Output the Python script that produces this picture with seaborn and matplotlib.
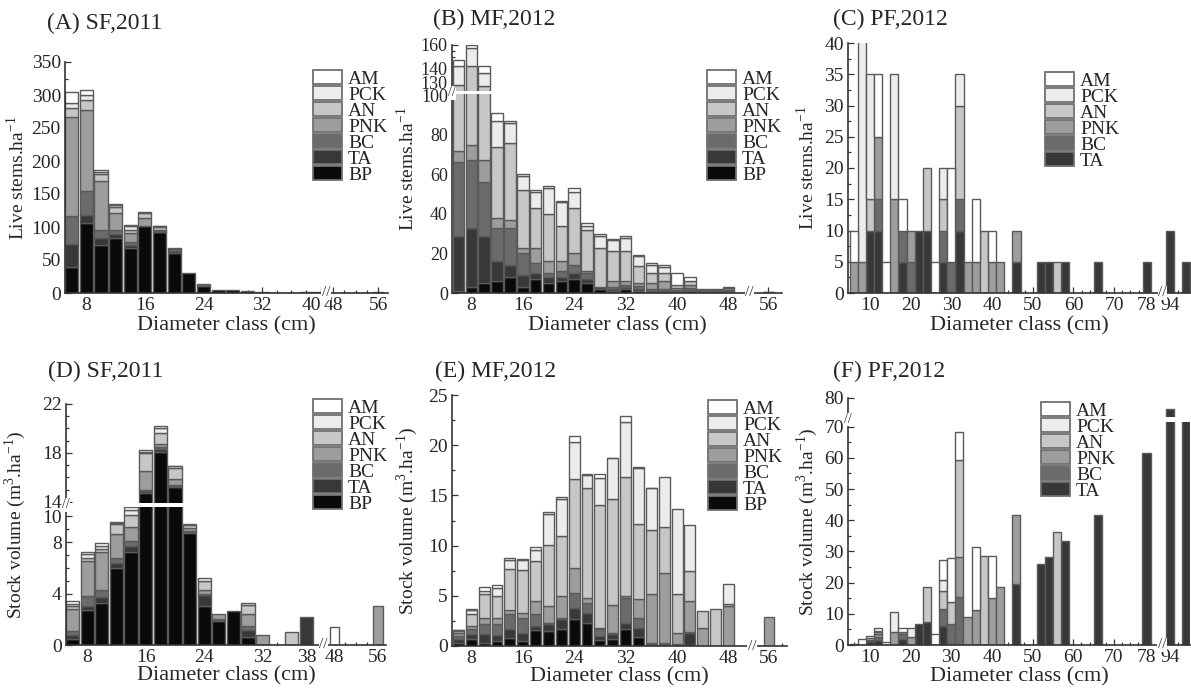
import matplotlib.pyplot as plt
import numpy as np
import seaborn as sns
from matplotlib.patches import Patch
from matplotlib.ticker import FixedLocator

sns.set_theme(style="ticks")
plt.rcParams["font.family"] = ["Liberation Serif", "DejaVu Serif"]
plt.rcParams["mathtext.fontset"] = "custom"
plt.rcParams["mathtext.rm"] = "Liberation Serif"

SPECIES = ["BP", "TA", "BC", "PNK", "AN", "PCK", "AM"]
FILLS = dict(zip(SPECIES, ["#0a0a0a", "#383838", "#6b6b6b", "#9d9d9d",
                           "#c7c7c7", "#ececec", "#ffffff"]))
EDGE = "#5a5a5a"

# ---- (A) live stems, SF 2011 ----
sf_stems_diam = [6, 8, 10, 12, 14, 16, 18, 20, 22, 24, 26, 28, 30, 32, 34, 36, 38, 40,
                 48, 50, 52, 54, 56]
sf_stems = {
    "BP":  [40, 106, 72, 83, 68, 102, 92, 60, 30, 11, 4, 4, 3, 1, 0.5, 0.5, 1, 1.5, 0.5, 0.5, 0.5, 0.5, 0.8],
    "TA":  [35, 12, 11, 6, 5, 0, 1, 3, 0, 0, 0, 0, 0, 0, 0, 0, 0, 0, 0, 0, 0, 0, 0],
    "BC":  [42, 36, 13, 7, 5, 0, 1, 3, 0, 2, 0, 0, 0, 0, 0, 0, 0, 0, 0, 0, 0, 0, 0],
    "PNK": [150, 123, 73, 25, 13, 11, 2, 2, 0, 0, 0, 0, 0, 0, 0, 0, 0, 0, 0, 0, 0, 0, 0],
    "AN":  [14, 16, 12, 9, 5, 8, 4, 0, 0, 0, 0, 0, 0, 0, 0, 0, 0, 0, 0, 0, 0, 0, 0],
    "PCK": [7, 7, 3, 3, 5, 0, 1, 0, 0, 0, 0, 0, 0, 0, 0, 0, 0, 0, 0, 0, 0, 0, 0],
    "AM":  [17, 8, 2, 2, 2, 2, 1, 0, 0, 0, 0, 0, 0, 0, 0, 0, 0, 0, 0, 0, 0, 0, 0],
}

# ---- (B) live stems, MF 2012 ----
mf_stems_diam = [6, 8, 10, 12, 14, 16, 18, 20, 22, 24, 26, 28, 30, 32, 34, 36, 38, 40,
                 42, 44, 46, 48, 56]
mf_stems = {
    "BP":  [1, 3, 5, 6, 8, 3, 7, 5, 6, 7, 5, 2, 1, 2, 1, 0.5, 0.5, 0.5, 1, 0.5, 0.5, 0.5, 0.3],
    "TA":  [28, 30, 24, 10, 6, 6, 3, 3, 2, 3, 2, 1, 1, 1, 1, 0.5, 0.5, 0.5, 0.5, 0.5, 0.5, 0.5, 0],
    "BC":  [37, 34, 27, 17, 19, 11, 5, 2, 3, 4, 3, 0, 1, 1, 1.4, 1, 1, 0.5, 1, 0.5, 0.5, 0.5, 0],
    "PNK": [6, 8, 11, 5, 4, 3, 8, 6, 5, 6, 1, 0, 3, 2, 1.6, 3, 4, 1, 1.5, 0.5, 0.5, 1, 0.3],
    "AN":  [56, 67, 59.5, 36, 39, 29, 20, 24, 18, 23, 21, 20, 15, 15, 8.7, 5, 4, 1.5, 2, 0, 0, 0, 0],
    "PCK": [14, 15.5, 10.5, 13, 10, 7, 8, 13, 12, 8, 2, 6, 6, 7, 5, 4, 3, 0, 0, 0, 0, 0, 0],
    "AM":  [5, 2.5, 5, 4, 1, 1, 1, 1, 0.5, 2, 1.5, 1, 0.5, 1, 0.5, 1, 1, 6, 2, 0, 0, 0.5, 0],
}

# ---- (C) live stems, PF 2012 ----
pf_stems_diam = [6, 8, 10, 12, 14, 16, 18, 20, 22, 24, 26, 28, 30, 32, 34, 36, 38, 40,
                 42, 46, 52, 54, 56, 58, 66, 78, 94, 98]
pf_stems = {
    "TA":  [0, 0, 10, 10, 0, 0, 5, 0, 10, 10, 0, 5, 0, 10, 0, 0, 0, 0, 0, 5, 5, 5, 0, 5, 5, 5, 10, 5],
    "BC":  [0, 0, 0, 5, 0, 0, 5, 5, 0, 0, 0, 5, 5, 5, 0, 0, 0, 0, 0, 0, 0, 0, 0, 0, 0, 0, 0, 0],
    "PNK": [5, 5, 0, 10, 0, 15, 0, 5, 0, 0, 0, 0, 0, 0, 5, 5, 0, 5, 5, 5, 0, 0, 0, 0, 0, 0, 0, 0],
    "AN":  [0, 0, 5, 0, 0, 0, 0, 0, 0, 10, 0, 5, 0, 15, 0, 0, 10, 0, 0, 0, 0, 0, 5, 0, 0, 0, 0, 0],
    "PCK": [0, 40, 20, 0, 0, 20, 0, 0, 0, 0, 0, 5, 0, 5, 0, 0, 0, 0, 0, 0, 0, 0, 0, 0, 0, 0, 0, 0],
    "AM":  [5, 0, 0, 10, 5, 0, 5, 0, 0, 0, 5, 0, 15, 0, 0, 10, 0, 5, 0, 0, 0, 0, 0, 0, 0, 0, 0, 0],
}

# ---- (D) stock volume, SF 2011 ----
sf_vol_diam = [6, 8, 10, 12, 14, 16, 18, 20, 22, 24, 26, 28, 30, 32, 36, 38, 48, 56]
sf_vol = {
    "BP":  [0.5, 2.75, 3.3, 6.0, 7.2, 14.7, 18.1, 15.2, 8.7, 3.0, 1.85, 2.65, 0.6, 0, 0, 0, 0, 0],
    "TA":  [0.3, 0.25, 0.4, 0.4, 0.5, 0.2, 0.2, 0.1, 0.1, 0.9, 0.1, 0, 0.6, 0, 0, 2.2, 0, 0],
    "BC":  [0.3, 0.8, 0.6, 0.4, 0.4, 0.1, 0.2, 0.1, 0.1, 0.1, 0.1, 0, 0.3, 0, 0, 0, 0, 0],
    "PNK": [1.7, 2.7, 2.9, 1.8, 1.1, 1.5, 0.2, 0.5, 0.2, 0.3, 0.35, 0, 0.95, 0.75, 0, 0, 0, 3.0],
    "AN":  [0.2, 0.3, 0.3, 0.8, 0.9, 1.5, 0.9, 0.9, 0.2, 0.7, 0, 0, 0.7, 0, 1.0, 0, 0, 0],
    "PCK": [0.2, 0.3, 0.2, 0.1, 0.4, 0.1, 0.4, 0.1, 0.1, 0.2, 0, 0, 0.15, 0, 0, 0, 0, 0],
    "AM":  [0.2, 0.1, 0.2, 0.1, 0.2, 0.1, 0.2, 0.05, 0, 0, 0, 0, 0, 0, 0, 0, 1.4, 0],
}

# ---- (E) stock volume, MF 2012 ----
mf_vol_diam = [6, 8, 10, 12, 14, 16, 18, 20, 22, 24, 26, 28, 30, 32, 34, 36, 38, 40,
               42, 44, 46, 48, 56]
mf_vol = {
    "BP":  [0.33, 0.7, 0.3, 0.5, 0.83, 0.5, 1.55, 1.5, 1.65, 2.65, 2.3, 0.55, 0.66, 1.65, 0.9,
            0.1, 0.1, 0.05, 0.1, 0, 0, 0, 0],
    "TA":  [0.33, 0.45, 0.85, 0.6, 0.82, 0.8, 0.45, 0.65, 1.0, 1.15, 1.0, 0.45, 0.5, 0.65, 0.9,
            0.1, 0.1, 0.05, 1.2, 0, 0, 0, 0],
    "BC":  [0.3, 0.5, 1.0, 1.05, 1.5, 1.5, 1.15, 0.15, 0.15, 1.5, 1.0, 0.65, 0.15, 2.5, 0.95,
            0.1, 0.1, 0.1, 0.1, 0, 0, 0, 0],
    "PNK": [0.3, 0.35, 0.6, 0.6, 0.4, 0.5, 1.35, 1.7, 2.2, 2.5, 0.5, 0.1, 2.8, 0.2, 1.9,
            4.9, 7.0, 1.1, 3.05, 1.75, 0, 4.0, 2.9],
    "AN":  [0.25, 1.15, 2.45, 2.25, 4.15, 4.3, 3.95, 6.1, 6.0, 8.85, 10.9, 12.25, 10.5, 11.8, 7.5,
            6.4, 4.6, 3.9, 3.05, 1.75, 3.65, 0.15, 0],
    "PCK": [0.05, 0.4, 0.3, 0.8, 0.9, 1.0, 1.15, 3.0, 3.65, 3.65, 1.35, 2.7, 4.1, 5.55, 5.55,
            4.1, 4.9, 8.4, 4.6, 0, 0, 2.05, 0],
    "AM":  [0.05, 0.15, 0.35, 0.25, 0.2, 0.1, 0.25, 0.2, 0.15, 0.6, 0.05, 0.4, 0.05, 0.6, 0.1,
            0.05, 0, 0, 0, 0, 0, 0, 0],
}

# ---- (F) stock volume, PF 2012 ----
pf_vol_diam = [6, 8, 10, 12, 14, 16, 18, 20, 22, 24, 26, 28, 30, 32, 34, 36, 38, 40,
               42, 46, 52, 54, 56, 58, 66, 78, 94, 98]
pf_vol = {
    "TA":  [0, 0, 1.2, 1.5, 0, 0, 1.9, 0, 6.7, 7.5, 0, 6.0, 0, 0, 0, 0, 0, 0,
            0, 19.4, 25.9, 28.2, 0, 33.4, 41.8, 61.5, 76.5, 73.5],
    "BC":  [0, 0, 0.5, 1.0, 0, 0, 1.5, 0, 0, 0, 0, 5.6, 6.6, 15.3, 0, 0, 0, 0,
            0, 0, 0, 0, 0, 0, 0, 0, 0, 0],
    "PNK": [0.3, 0, 0, 1.0, 0, 4.3, 0.8, 2.7, 0, 0, 0, 0, 0, 12.8, 8.9, 11.1, 0, 15.0,
            18.5, 22.4, 0, 0, 0, 0, 0, 0, 0, 0],
    "AN":  [0, 0, 0.6, 0.6, 0, 0, 0, 0, 0, 11.0, 0, 5.7, 7.3, 31.1, 0, 0, 28.4, 0,
            0, 0, 0, 0, 36.1, 0, 0, 0, 0, 0],
    "PCK": [0, 0, 0, 0.5, 0, 6.2, 0, 2.65, 0, 0, 0, 3.6, 0, 0, 0, 0, 0, 0,
            0, 0, 0, 0, 0, 0, 0, 0, 0, 0],
    "AM":  [0, 1.8, 0.6, 0.75, 1.1, 0, 1.15, 0, 0, 0, 3.4, 6.4, 13.9, 9.0, 0, 20.3, 0, 13.6,
            0, 0, 0, 0, 0, 0, 0, 0, 0, 0],
}

STEMS = r"Live stems.ha$^{\mathregular{-1}}$"
VOLUME = r"Stock volume (m$^{\mathregular{3}}$.ha$^{\mathregular{-1}}$)"

W, H = 1191, 694


def axes_rect(l, t, r, b):
    return [l / W, 1 - b / H, (r - l) / W, (b - t) / H]


def piecewise(knots_d, knots_u):
    d = np.asarray(knots_d, float)
    u = np.asarray(knots_u, float)
    slope = (u[-1] - u[-2]) / (d[-1] - d[-2])
    d = np.concatenate([[-1e4], d, [d[-1] + 1e4]])
    u = np.concatenate([[-1e4], u, [u[-1] + 1e4 * slope]])
    return (lambda v: np.interp(v, d, u)), (lambda v: np.interp(v, u, d))


ticks_8 = [8, 16, 24, 32, 40, 48, 56]
ticks_10 = [10, 20, 30, 40, 50, 60, 70, 78, 94]

panels = [
    dict(title="(A) SF,2011", tpos=(47, 23), box=(65, 62, 388, 293), diam=sf_stems_diam,
         vals=sf_stems, sp=SPECIES, width=1.8, ylabel=STEMS, ylx=-0.115, xly=-0.1,
         xk=([0, 40.6, 47, 70], [0, 40.6, 40.89, 58.6]), xlim=(5.1, 57.75), xbreak=43.5,
         yk=None, ylim=(0, 350), ybreak=None, yband=None, ysize=14,
         xt=ticks_8, xminor=list(range(6, 41, 2)) + list(range(48, 57, 2)),
         yt=list(range(0, 351, 50)), yminor=list(range(25, 350, 50)),
         leg=(313, 70), right_40=True),
    dict(title="(B) MF,2012", tpos=(433, 19), box=(452, 45, 782, 293), diam=mf_stems_diam,
         vals=mf_stems, sp=SPECIES, width=1.8, ylabel=STEMS, ylx=-0.103, xly=-0.094,
         xk=([0, 50.5, 54, 70], [0, 50.5, 52.2, 68.2]), xlim=(5.0, 58.1), xbreak=52,
         yk=([0, 100.5, 121, 130, 140, 160, 170], [0, 100.5, 102, 106.4, 113.6, 125.4, 131.3]),
         ylim=(0, 160), ybreak=110, yband=(100.5, 121), ysize=13,
         xt=ticks_8, xminor=list(range(6, 49, 2)) + [56],
         yt=[0, 20, 40, 60, 80, 100, 130, 140, 160],
         yminor=[10, 30, 50, 70, 90, 135, 145, 150, 155],
         leg=(707, 70), right_40=False),
    dict(title="(C) PF,2012", tpos=(833, 19), box=(848, 43, 1191, 293), diam=pf_stems_diam,
         vals=pf_stems, sp=SPECIES[1:], width=2.0, ylabel=STEMS, ylx=-0.087, xly=-0.094,
         xk=([0, 81, 93, 110], [0, 81, 82.7, 99.7]), xlim=(4.6, 99.2), xbreak=87,
         yk=None, ylim=(0, 40), ybreak=None, yband=None, ysize=14,
         xt=ticks_10, xminor=list(range(6, 79, 2)) + [94, 96, 98],
         yt=list(range(0, 41, 5)), yminor=[2.5 + 5 * i for i in range(8)],
         leg=(1045, 72), right_40=False),
    dict(title="(D) SF,2011", tpos=(48, 371), box=(66, 404, 386, 645), diam=sf_vol_diam,
         vals=sf_vol, sp=SPECIES, width=1.8, ylabel=VOLUME, ylx=-0.119, xly=-0.09,
         xk=([0, 39.7, 47, 70], [0, 39.7, 41.1, 58.12]), xlim=(5.1, 57.5), xbreak=43,
         yk=([0, 10.8, 13.9, 30], [0, 10.8, 11.05, 26.35]), ylim=(0, 22), ybreak=12.3,
         yband=(10.75, 13.9), ysize=14,
         xt=[8, 16, 24, 32, 38, 48, 56], xminor=list(range(6, 39, 2)) + list(range(48, 57, 2)),
         yt=[0, 4, 8, 10, 14, 18, 22], yminor=[1, 2, 3, 5, 6, 7, 9, 15, 16, 17, 19, 20, 21],
         leg=(313, 399), right_40=False),
    dict(title="(E) MF,2012", tpos=(435, 371), box=(452, 395, 787, 646), diam=mf_vol_diam,
         vals=mf_vol, sp=SPECIES, width=1.7, ylabel=VOLUME, ylx=-0.096, xly=-0.085,
         xk=([0, 51, 54, 70], [0, 51, 52.3, 68.3]), xlim=(5.0, 58.8), xbreak=52.5,
         yk=None, ylim=(0, 25), ybreak=None, yband=None, ysize=14,
         xt=ticks_8, xminor=list(range(6, 49, 2)) + [56, 58],
         yt=list(range(0, 26, 5)), yminor=[2.5 + 5 * i for i in range(5)],
         leg=(708, 400), right_40=False),
    dict(title="(F) PF,2012", tpos=(833, 371), box=(848, 398, 1190, 645), diam=pf_vol_diam,
         vals=pf_vol, sp=SPECIES[1:], width=2.0, ylabel=VOLUME, ylx=-0.082, xly=-0.09,
         xk=([0, 81, 93, 110], [0, 81, 82.7, 99.7]), xlim=(4.6, 99.0), xbreak=87,
         yk=([0, 71.5, 73.9, 80], [0, 71.5, 73.1, 79.2]), ylim=(0, 80), ybreak=72.7,
         yband=(71.5, 73.9), ysize=14,
         xt=ticks_10, xminor=list(range(6, 79, 2)) + [94, 96, 98],
         yt=list(range(0, 81, 10)), yminor=list(range(5, 70, 10)),
         leg=(1041, 402), right_40=False),
]

fig = plt.figure(figsize=(W / 100, H / 100), dpi=100)

for p in panels:
    ax = fig.add_axes(axes_rect(*p["box"]))
    ax.set_facecolor("white")
    ax.set_xscale("function", functions=piecewise(*p["xk"]))
    if p["yk"] is not None:
        ax.set_yscale("function", functions=piecewise(*p["yk"]))

    diam = np.asarray(p["diam"], float)
    bottom = np.zeros(len(diam))
    for sp in p["sp"]:
        h = np.asarray(p["vals"][sp], float)
        m = h > 0
        ax.bar(diam[m], h[m], width=p["width"], bottom=bottom[m], color=FILLS[sp],
               edgecolor=EDGE, linewidth=1.0, zorder=1)
        bottom += h

    ax.set_xlim(*p["xlim"])
    ax.set_ylim(*p["ylim"])

    ax.set_xticks(p["xt"], [str(t) for t in p["xt"]])
    ax.xaxis.set_minor_locator(FixedLocator(p["xminor"]))
    ax.set_yticks(p["yt"], [str(t) for t in p["yt"]])
    ax.yaxis.set_minor_locator(FixedLocator(p["yminor"]))
    if p["right_40"]:
        ax.get_xticklabels()[4].set_horizontalalignment("right")

    ax.tick_params(which="both", direction="in", color="#333333", width=0.9,
                   labelsize=14, pad=3)
    ax.tick_params(axis="y", labelsize=p["ysize"])
    ax.tick_params(which="major", length=4)
    ax.tick_params(which="minor", length=2.5)
    sns.despine(ax=ax)
    for s in ("left", "bottom"):
        ax.spines[s].set_color("#333333")
        ax.spines[s].set_linewidth(1.2)

    ax.set_ylabel(p["ylabel"], fontsize=14)
    ax.yaxis.set_label_coords(p["ylx"], 0.5)
    ax.set_xlabel("Diameter class (cm)", fontsize=16)
    ax.xaxis.set_label_coords(0.5, p["xly"])

    if p["yband"] is not None:
        ax.axhspan(*p["yband"], color="white", zorder=2, lw=0)
        ax.text(0, p["ybreak"], "//", transform=ax.get_yaxis_transform(), ha="center",
                va="center", fontsize=10, color="#333333", zorder=4, clip_on=False,
                bbox=dict(fc="white", ec="none", pad=0.3))
    ax.text(p["xbreak"], 0, "//", transform=ax.get_xaxis_transform(), ha="center",
            va="center", fontsize=11, color="#333333", zorder=4, clip_on=False,
            bbox=dict(fc="white", ec="none", pad=0.3))

    handles = [Patch(facecolor=FILLS[s], edgecolor="#707070", linewidth=1.3, label=s)
               for s in reversed(p["sp"])]
    lx, ly = p["leg"]
    ax.legend(handles=handles, loc="upper left", bbox_to_anchor=(lx / W, 1 - ly / H),
              bbox_transform=fig.transFigure, frameon=False, fontsize=14,
              handlelength=1.5, handleheight=0.7, handletextpad=0.3,
              labelspacing=-0.08, borderpad=0, borderaxespad=0)

    tx, ty = p["tpos"]
    fig.text(tx / W, 1 - ty / H, p["title"], ha="left", va="center", fontsize=17)

fig.savefig("out.png", dpi=100)
